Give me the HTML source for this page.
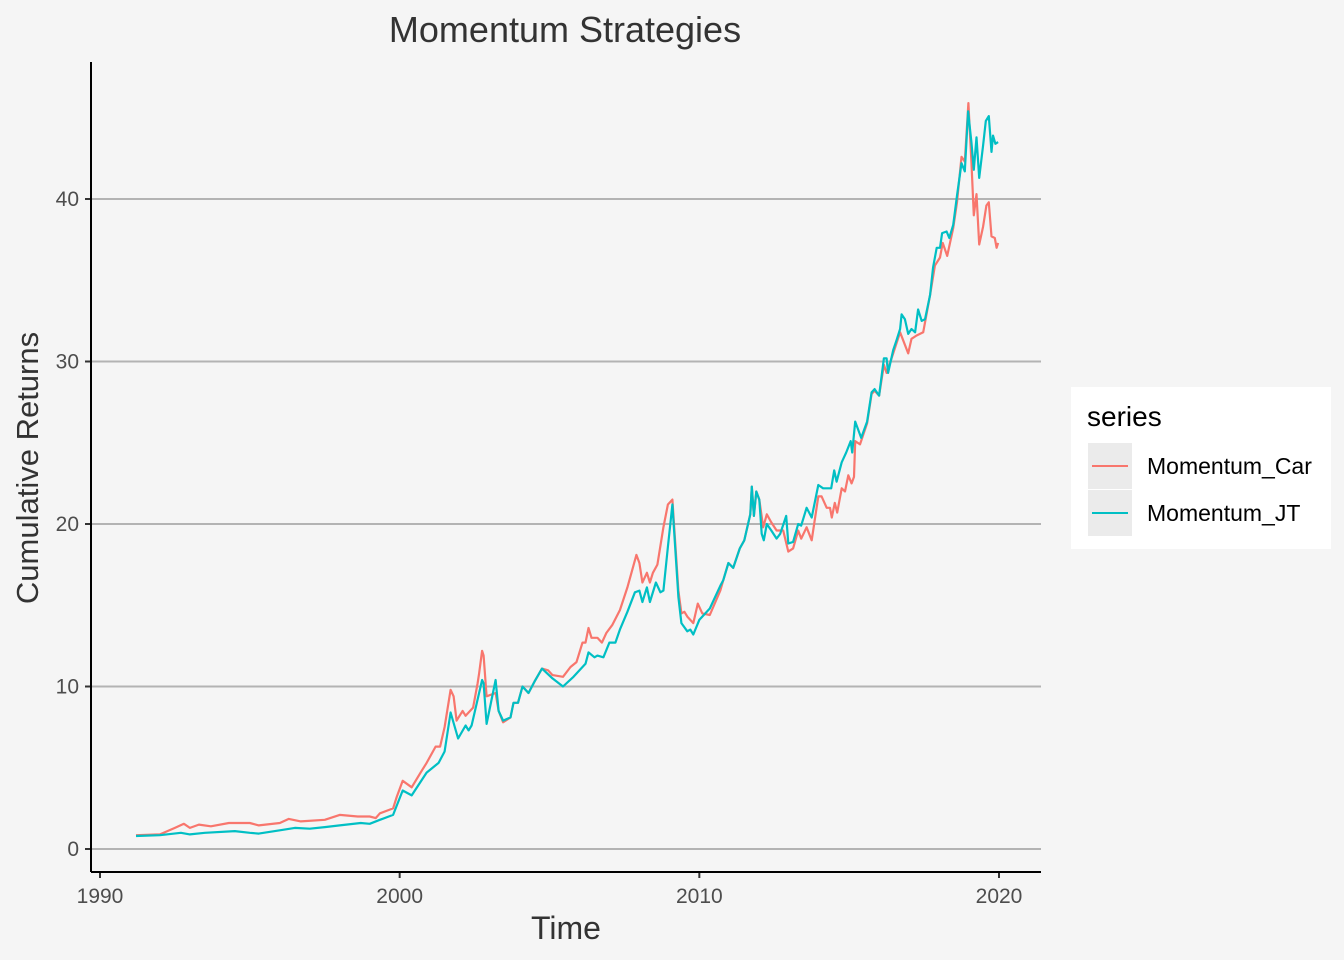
<!DOCTYPE html>
<html><head><meta charset="utf-8"><style>
body{margin:0;background:#f5f5f5;font-family:"Liberation Sans",Arial,sans-serif;}
svg{display:block}
</style></head><body>
<svg id="chart" width="1344" height="960">
<rect width="1344" height="960" fill="#f5f5f5"/>
<g id="grid"></g><g id="series"></g><g id="axes"></g>
<text x="565" y="42" font-size="36" fill="#333" text-anchor="middle">Momentum Strategies</text>
<text x="566" y="939" font-size="32" fill="#333" text-anchor="middle">Time</text>
<text transform="translate(38,468) rotate(-90)" font-size="31" fill="#333" text-anchor="middle">Cumulative Returns</text>
<g>
<rect x="1071" y="387" width="260" height="162" fill="#fff"/>
<text x="1087" y="426" font-size="28" fill="#000">series</text>
<rect x="1088" y="443" width="44" height="46" fill="#ebebeb"/>
<line x1="1092" y1="466" x2="1128" y2="466" stroke="#F8766D" stroke-width="2"/>
<text x="1147" y="474" font-size="23" fill="#000">Momentum_Car</text>
<rect x="1088" y="490" width="44" height="46" fill="#ebebeb"/>
<line x1="1092" y1="513" x2="1128" y2="513" stroke="#00BFC4" stroke-width="2"/>
<text x="1147" y="521" font-size="23" fill="#000">Momentum_JT</text>
</g>
</svg>
<script>
const xTicks=[1990,2000,2010,2020];
const yTicks=[0,10,20,30,40];
const carDates=[1991.2,1992.0,1992.5,1992.8,1993.0,1993.3,1993.7,1994.3,1995.0,1995.3,1996.0,1996.3,1996.7,1997.5,1998.0,1998.6,1999.0,1999.2,1999.34,1999.78,1999.9,2000.1,2000.4,2000.7,2000.9,2001.2,2001.35,2001.5,2001.7,2001.8,2001.9,2002.1,2002.2,2002.45,2002.6,2002.65,2002.75,2002.8,2002.9,2003.2,2003.3,2003.45,2003.7,2003.8,2003.95,2004.1,2004.3,2004.5,2004.75,2004.95,2005.1,2005.45,2005.7,2005.9,2006.1,2006.2,2006.3,2006.4,2006.6,2006.75,2006.9,2007.1,2007.35,2007.6,2007.9,2008.0,2008.1,2008.25,2008.35,2008.45,2008.6,2008.8,2008.95,2009.1,2009.3,2009.4,2009.5,2009.6,2009.8,2009.95,2010.1,2010.35,2010.7,2010.8,2010.97,2011.13,2011.35,2011.5,2011.7,2011.75,2011.82,2011.9,2012.0,2012.13,2012.25,2012.4,2012.58,2012.8,2012.97,2013.13,2013.3,2013.4,2013.58,2013.75,2013.97,2014.08,2014.25,2014.36,2014.42,2014.52,2014.6,2014.75,2014.86,2014.97,2015.08,2015.16,2015.2,2015.36,2015.6,2015.75,2015.85,2016.0,2016.16,2016.25,2016.47,2016.7,2016.97,2017.08,2017.25,2017.47,2017.7,2017.86,2018.03,2018.12,2018.27,2018.47,2018.6,2018.75,2018.86,2018.98,2019.08,2019.16,2019.25,2019.34,2019.47,2019.58,2019.66,2019.75,2019.86,2019.92,2019.97];
const carValues=[0.85,0.9,1.3,1.55,1.3,1.5,1.4,1.6,1.6,1.45,1.6,1.85,1.7,1.8,2.1,2.0,2.0,1.9,2.2,2.5,3.2,4.2,3.8,4.7,5.3,6.3,6.3,7.5,9.8,9.4,7.9,8.5,8.2,8.7,10.2,10.8,12.2,11.9,9.4,9.6,8.5,7.8,8.1,9.0,9.0,10.0,9.6,10.3,11.1,11.0,10.7,10.6,11.2,11.5,12.7,12.7,13.6,13.0,13.0,12.7,13.3,13.8,14.7,16.1,18.1,17.6,16.4,17.0,16.4,17.0,17.5,19.8,21.2,21.5,15.9,14.5,14.6,14.3,13.9,15.1,14.5,14.4,15.9,16.55,17.6,17.3,18.5,19.0,20.6,22.3,20.5,22.0,21.5,19.8,20.6,20.1,19.6,19.6,18.3,18.5,19.6,19.1,19.8,19.0,21.7,21.7,21.0,21.0,20.4,21.3,20.7,22.2,22.0,23.0,22.5,22.9,25.1,24.9,26.2,28.0,28.2,27.9,29.8,29.3,30.5,31.8,30.5,31.4,31.6,31.8,34.1,35.9,36.4,37.3,36.5,38.2,39.8,42.6,42.3,45.9,42.3,39.0,40.3,37.2,38.3,39.6,39.8,37.7,37.6,37.0,37.3];
const jtDates=[1991.2,1992.0,1992.7,1993.0,1993.5,1994.5,1995.0,1995.3,1996.0,1996.5,1997.0,1997.5,1998.0,1998.7,1999.0,1999.34,1999.78,2000.1,2000.4,2000.9,2001.3,2001.5,2001.7,2001.95,2002.2,2002.3,2002.4,2002.65,2002.75,2002.8,2002.9,2003.2,2003.3,2003.45,2003.7,2003.8,2003.95,2004.1,2004.3,2004.5,2004.75,2005.1,2005.45,2005.8,2006.0,2006.2,2006.3,2006.5,2006.6,2006.8,2007.0,2007.2,2007.35,2007.6,2007.85,2008.0,2008.1,2008.25,2008.35,2008.55,2008.7,2008.8,2008.95,2009.1,2009.3,2009.4,2009.6,2009.7,2009.8,2010.0,2010.2,2010.35,2010.7,2010.8,2010.97,2011.13,2011.35,2011.5,2011.7,2011.75,2011.82,2011.9,2012.0,2012.08,2012.15,2012.25,2012.4,2012.58,2012.7,2012.9,2012.97,2013.13,2013.3,2013.4,2013.58,2013.75,2013.97,2014.13,2014.4,2014.5,2014.58,2014.75,2014.9,2015.05,2015.1,2015.2,2015.4,2015.6,2015.75,2015.85,2016.0,2016.16,2016.25,2016.3,2016.47,2016.58,2016.7,2016.75,2016.86,2016.97,2017.08,2017.2,2017.3,2017.42,2017.53,2017.7,2017.8,2017.92,2018.03,2018.1,2018.25,2018.34,2018.47,2018.6,2018.75,2018.86,2018.97,2019.08,2019.16,2019.25,2019.34,2019.47,2019.56,2019.66,2019.75,2019.8,2019.88,2019.97];
const jtValues=[0.8,0.85,1.0,0.9,1.0,1.1,1.0,0.95,1.15,1.3,1.25,1.35,1.45,1.6,1.55,1.8,2.1,3.6,3.3,4.7,5.3,6.0,8.4,6.8,7.6,7.3,7.6,9.6,10.4,10.2,7.7,10.4,8.5,7.9,8.1,9.0,9.0,10.0,9.6,10.3,11.1,10.5,10.0,10.6,11.0,11.4,12.1,11.8,11.9,11.8,12.7,12.7,13.5,14.6,15.8,15.9,15.2,16.1,15.2,16.4,15.8,15.9,18.6,21.2,15.5,13.9,13.4,13.5,13.2,14.1,14.5,14.8,16.2,16.55,17.6,17.3,18.5,19.0,20.6,22.3,20.5,22.0,21.5,19.4,19.0,20.0,19.6,19.1,19.4,20.5,18.8,18.9,20.0,19.9,21.0,20.4,22.4,22.2,22.2,23.3,22.6,23.8,24.4,25.1,24.4,26.3,25.3,26.3,28.1,28.3,27.9,30.2,30.2,29.3,30.7,31.3,32.0,32.9,32.6,31.7,32.0,31.8,33.2,32.5,32.6,34.1,35.8,37.0,37.0,37.9,38.0,37.6,38.4,40.2,42.2,41.7,45.4,43.5,41.8,43.8,41.3,43.3,44.8,45.1,42.9,43.9,43.4,43.5];

const NS='http://www.w3.org/2000/svg';
const X0=91,X1=1041,Y0=62,Y1=872;
function xs(v){return 100+(v-1990)*(999-100)/30;}
function ys(v){return 849-v*(849-199)/40;}
function mk(tag,attrs,parent){const e=document.createElementNS(NS,tag);for(const k in attrs)e.setAttribute(k,attrs[k]);parent.appendChild(e);return e;}
const grid=document.getElementById('grid'),axes=document.getElementById('axes'),ser=document.getElementById('series');
yTicks.forEach(t=>{
  const l=mk('line',{x1:X0,x2:X1,y1:ys(t),y2:ys(t),stroke:'#b3b3b3','stroke-width':2},grid);
  
  
  const tk=mk('line',{x1:X0-6,x2:X0,y1:ys(t),y2:ys(t),stroke:'#333','stroke-width':2},axes);
  
  
  const tx=mk('text',{x:X0-12,y:ys(t)+7,'font-size':21,fill:'#4d4d4d','text-anchor':'end'},axes);
  tx.textContent=t;
  
  
});
xTicks.forEach(t=>{
  const tk=mk('line',{x1:xs(t),x2:xs(t),y1:Y1,y2:Y1+6,stroke:'#333','stroke-width':2},axes);
  
  
  const tx=mk('text',{x:xs(t),y:903,'font-size':21,fill:'#4d4d4d','text-anchor':'middle'},axes);
  tx.textContent=t;
  
  
});
const ya=mk('line',{x1:X0,x2:X0,y1:Y0,y2:Y1,stroke:'#000','stroke-width':2},axes);


const xa=mk('line',{x1:X0,x2:X1,y1:Y1,y2:Y1,stroke:'#000','stroke-width':2},axes);


function path(d,v){return d.map((t,i)=>(i?'L':'M')+xs(t).toFixed(1)+','+ys(v[i]).toFixed(1)).join('');}
const pc=mk('path',{d:path(carDates,carValues),fill:'none',stroke:'#F8766D','stroke-width':2.2,'stroke-linejoin':'round'},ser);


const pj=mk('path',{d:path(jtDates,jtValues),fill:'none',stroke:'#00BFC4','stroke-width':2.2,'stroke-linejoin':'round'},ser);


</script>
</body></html>
